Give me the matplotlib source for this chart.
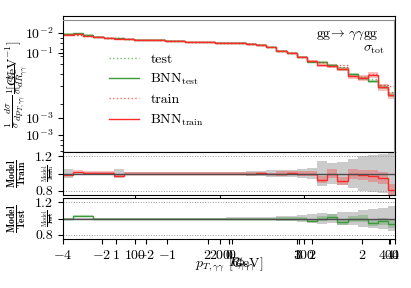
import numpy as np
import matplotlib
matplotlib.use("Agg")
import matplotlib.pyplot as plt

plt.rcParams.update({
    "font.family": "serif",
    "font.serif": ["cmr10", "DejaVu Serif"],
    "mathtext.fontset": "cm",
    "axes.formatter.use_mathtext": True,
    "font.size": 10,
})

# p_T bins [GeV]
bin_edges = np.arange(15, 412, 12)

test_vals = [0.00978, 0.00956, 0.00935, 0.00914, 0.00893, 0.00893, 0.00873, 0.00854,
             0.00854, 0.00854, 0.00835, 0.00835, 0.00816, 0.00816, 0.00816, 0.00798,
             0.00798, 0.00798, 0.00780, 0.00763, 0.00729, 0.00666, 0.00637, 0.00582,
             0.00532, 0.00520, 0.00475, 0.00464, 0.00397, 0.00362, 0.00354, 0.00309,
             0.00264]
train_vals = [0.00978, 0.00956, 0.00935, 0.00914, 0.00893, 0.00893, 0.00873, 0.00854,
              0.00854, 0.00854, 0.00835, 0.00835, 0.00816, 0.00816, 0.00816, 0.00798,
              0.00798, 0.00798, 0.00780, 0.00763, 0.00729, 0.00666, 0.00637, 0.00582,
              0.00532, 0.00520, 0.00475, 0.00486, 0.00379, 0.00371, 0.00397, 0.00309,
              0.00303]

# model / truth ratios
ratio_train = [0.98, 1.02, 1.01, 1.01, 1.01, 0.97, 1.0, 1.0, 1.0, 1.0, 1.0, 1.0,
               1.0, 1.0, 1.0, 1.0, 1.0, 1.0, 1.0, 1.005, 0.995, 1.0, 1.005, 1.0,
               1.0, 0.93, 1.0, 0.91, 0.99, 0.98, 0.97, 0.95, 0.81]
ratio_test = [1.0, 1.035, 1.03, 1.0, 1.0, 1.0, 1.0, 1.0, 1.0, 1.0, 1.0, 1.0,
              1.0, 1.0, 1.0, 1.0, 1.0, 1.0, 1.0, 1.0, 1.0, 1.0, 1.0, 1.0,
              0.975, 1.0, 1.02, 0.96, 0.99, 1.0, 0.95, 0.965, 0.93]

# relative uncertainties
stat_train = [0.05, 0.015, 0.015, 0.015, 0.015, 0.05, 0.015, 0.015, 0.015, 0.015, 0.015,
              0.015, 0.015, 0.015, 0.015, 0.015, 0.02, 0.02, 0.025, 0.03, 0.035, 0.04,
              0.045, 0.05, 0.06, 0.15, 0.12, 0.13, 0.17, 0.2, 0.22, 0.23, 0.25]
stat_test = [0.012, 0.012, 0.012, 0.012, 0.012, 0.012, 0.012, 0.012, 0.012, 0.012, 0.012,
             0.012, 0.012, 0.012, 0.012, 0.012, 0.02, 0.02, 0.02, 0.02, 0.02, 0.025,
             0.03, 0.04, 0.05, 0.07, 0.06, 0.08, 0.08, 0.1, 0.11, 0.13, 0.15]
bnn_unc_train = [0.015] * 21 + [0.025, 0.025, 0.025, 0.025, 0.04, 0.05, 0.05, 0.06, 0.06,
                                0.07, 0.07, 0.08]
bnn_unc_test = [0.012] * 21 + [0.02, 0.02, 0.02, 0.02, 0.03, 0.03, 0.035, 0.035, 0.04,
                               0.04, 0.045, 0.05]

pt_ticks = [100, 200, 300, 400]
eta4_ticks = [-4, -2, 0, 2, 4]
eta2_ticks = [-2, -1, 0, 1, 2]
dr_ticks = [1, 2, 3, 4]

green = "#3c9a3c"
red = "#ff2b2b"

test_vals = np.array(test_vals)
train_vals = np.array(train_vals)
bnn_test = test_vals * np.array(ratio_test)
bnn_train = train_vals * np.array(ratio_train)

fig = plt.figure(figsize=(4.11, 2.88), dpi=100)
W, H = 411.0, 288.0

def box(x0, y0, x1, y1):
    return [x0 / W, 1 - y1 / H, (x1 - x0) / W, (y1 - y0) / H]

ax = fig.add_axes(box(63, 16, 395, 152))
ax1 = fig.add_axes(box(63, 152, 395, 195), sharex=ax)
ax2 = fig.add_axes(box(63, 198, 395, 239), sharex=ax)

# main panel
ax.stairs(bnn_test * (1 + np.array(bnn_unc_test)), bin_edges,
          baseline=bnn_test * (1 - np.array(bnn_unc_test)), fill=True, color=green, alpha=0.3, lw=0)
ax.stairs(bnn_train * (1 + np.array(bnn_unc_train)), bin_edges,
          baseline=bnn_train * (1 - np.array(bnn_unc_train)), fill=True, color=red, alpha=0.3, lw=0)
ax.stairs(test_vals, bin_edges, color=green, ls=":", lw=1, alpha=0.7, label="test", baseline=None)
ax.stairs(bnn_test, bin_edges, color=green, lw=1, label=r"BNN$_\mathrm{test}$", baseline=None)
ax.stairs(train_vals, bin_edges, color=red, ls=":", lw=1, alpha=0.7, label="train", baseline=None)
ax.stairs(bnn_train, bin_edges, color=red, lw=1, label=r"BNN$_\mathrm{train}$", baseline=None)
ax.set_yscale("log")
ax.set_ylim(10 ** -3.167, 10 ** -1.833)
ax.set_xlim(15, 407)
ax.tick_params(labelbottom=False)
ax.set_ylabel(r"$\frac{1}{\sigma}\frac{d\sigma}{dp_{T,\gamma\gamma}}$ [GeV$^{-1}$]")
ax.yaxis.set_label_coords(-0.105, 0.5)
ax.legend(loc="upper left", bbox_to_anchor=(0.1, 0.82), frameon=False,
          handlelength=2.2, labelspacing=0.45, fontsize=10)
ax.text(0.95, 0.86, r"$\mathrm{gg}\!\to\,\gamma\gamma\mathrm{gg}$", transform=ax.transAxes,
        ha="right", va="center", fontsize=10)
ax.text(0.97, 0.75, r"$\sigma_\mathrm{tot}$", transform=ax.transAxes,
        ha="right", va="center", fontsize=10)

# overlaid panel from a second observable
ov = fig.add_axes(box(63, 20, 394, 152), facecolor="none")
ov.set_yscale("log")
ov.set_ylim(10 ** -4.06, 1)
ov.set_xticks([])
for s in ["left", "bottom"]:
    ov.spines[s].set_visible(False)
for s in ["top", "right"]:
    ov.spines[s].set_color("0.55")
ov.set_ylabel(r"$\frac{1}{\sigma}\frac{d\sigma}{dR_{\gamma\gamma}}$")
ov.yaxis.set_label_coords(-0.1, 0.55)

# ratio panels
for a, ratio, stat, unc, col, lab, lab2 in [
        (ax1, ratio_train, stat_train, bnn_unc_train, red,
         r"$\frac{\mathbf{Model}}{\mathbf{Train}}$", r"$\frac{\mathrm{Model}}{\mathrm{Train}}$"),
        (ax2, ratio_test, stat_test, bnn_unc_test, green,
         r"$\frac{\mathbf{Model}}{\mathbf{Test}}$", r"$\frac{\mathrm{Model}}{\mathrm{Test}}$")]:
    ratio = np.array(ratio)
    stat = np.array(stat)
    unc = np.array(unc)
    a.stairs(1 + stat, bin_edges, baseline=1 - stat, fill=True, color="0.6", alpha=0.5, lw=0)
    a.stairs(ratio * (1 + unc), bin_edges, baseline=ratio * (1 - unc), fill=True,
             color=col, alpha=0.3, lw=0)
    a.axhline(1.0, color="0.3", lw=1)
    a.axhline(1.2, color="0.6", lw=0.7, ls=":")
    a.axhline(0.8, color="0.6", lw=0.7, ls=":")
    a.stairs(ratio, bin_edges, color=col, lw=1, baseline=None)
    a.set_ylim(0.75, 1.25)
    a.set_yticks([0.8, 1, 1.2])
    a.set_yticklabels(["0.8", "1", "1.2"])
    a.set_ylabel(lab, fontsize=10)
    a.yaxis.set_label_coords(-0.1, 0.5)
    a.text(-0.045, 0.5, lab2, transform=a.transAxes, rotation=90, ha="center",
           va="center", fontsize=6)

ax1.tick_params(labelbottom=False)
ax2.set_xticks(pt_ticks)
ax2.set_xlabel(r"$p_{T,\gamma\gamma}$ [GeV]")
ax2.xaxis.set_label_coords(0.5, -0.42)

# overlapping x axes of the other observables
for lims, ticks, xlab, dx in [((-4, 4), eta4_ticks, r"$R_{\gamma\gamma}$", 0.03),
                              ((-2.6, 2.5), eta2_ticks, r"$\phi_{\gamma\gamma}$", 0.05),
                              ((0.42, 4.05), dr_ticks, None, 0)]:
    o = fig.add_axes(box(63, 198, 395, 239), facecolor="none")
    o.set_xlim(*lims)
    o.set_xticks(ticks)
    o.set_yticks([])
    for s in o.spines.values():
        s.set_visible(False)
    if xlab:
        o.set_xlabel(xlab)
        o.xaxis.set_label_coords(0.5 + dx, -0.42)

fig.savefig("out.png", dpi=100)
